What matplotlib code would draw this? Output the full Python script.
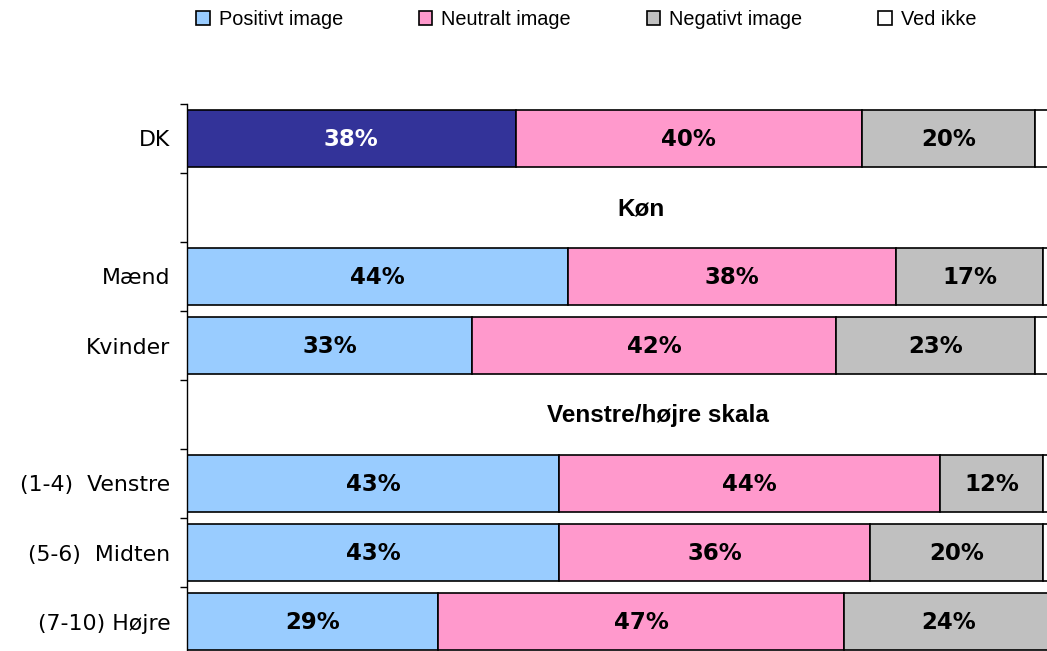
import matplotlib
matplotlib.use("Agg")
import matplotlib.pyplot as plt
from matplotlib.patches import Patch

categories = ["DK", "", "Mænd", "Kvinder", "", "(1-4)  Venstre", "(5-6)  Midten", "(7-10) Højre"]
positive = [38, None, 44, 33, None, 43, 43, 29]
neutral = [40, None, 38, 42, None, 44, 36, 47]
negative = [20, None, 17, 23, None, 12, 20, 24]
dontknow = [2, None, 1, 2, None, 1, 1, 0]
series_names = ["Positivt image", "Neutralt image", "Negativt image", "Ved ikke"]
group_headers = {1: "Køn", 4: "Venstre/højre skala"}
header_x = {1: 52.5, 4: 54.4}

colors = ["#99CCFF", "#FF99CC", "#C0C0C0", "#FFFFFF"]
dk_color = "#333399"

fig = plt.figure(figsize=(10.47, 6.51), dpi=100)
ax = fig.add_axes([187/1047, 1 - 656/651, 865/1047, 552/651])

n = len(categories)
ys = list(range(n))
for i, y in enumerate(ys):
    if positive[i] is None:
        continue
    vals = [positive[i], neutral[i], negative[i], dontknow[i]]
    left = 0
    for j, v in enumerate(vals):
        c = colors[j]
        if j == 0 and categories[i] == "DK":
            c = dk_color
        if v > 0:
            ax.barh(y, v, left=left, height=0.83, color=c, edgecolor="black", linewidth=1.2)
        if j < 3:
            tc = "white" if (j == 0 and categories[i] == "DK") else "black"
            ax.text(left + v / 2, y + 0.02, f"{v}%", ha="center", va="center",
                    fontsize=16.5, fontweight="bold", color=tc, family="DejaVu Sans")
        left += v

for i, h in group_headers.items():
    ax.text(header_x[i], i + 0.02, h, ha="center", va="center", fontsize=17.5,
            fontweight="bold", family="Liberation Sans")

ax.set_xlim(0, 100)
ax.set_ylim(n - 0.5, -0.5)
ax.set_xticks([])
ax.set_yticks(ys)
ax.set_yticklabels(categories, fontsize=15.8, family="DejaVu Sans")
ax.set_yticks([y - 0.5 for y in ys] + [n - 0.5], minor=True)
ax.tick_params(axis="y", which="major", length=0, pad=12)
ax.tick_params(axis="y", which="minor", length=5, width=1, direction="out")
for s in ["top", "right", "bottom"]:
    ax.spines[s].set_visible(False)
ax.spines["left"].set_linewidth(1)

handles = [Patch(facecolor=c, edgecolor="black", linewidth=1.2) for c in colors]
fig.legend(handles, series_names, loc="center left", bbox_to_anchor=(196/1047, 0.970), ncol=4,
           frameon=False, prop={"family": "Liberation Sans", "size": 14.3},
           handlelength=0.7, handleheight=0.7, handletextpad=0.45, columnspacing=3.8,
           borderpad=0, borderaxespad=0)

fig.savefig("out.png", dpi=100)
